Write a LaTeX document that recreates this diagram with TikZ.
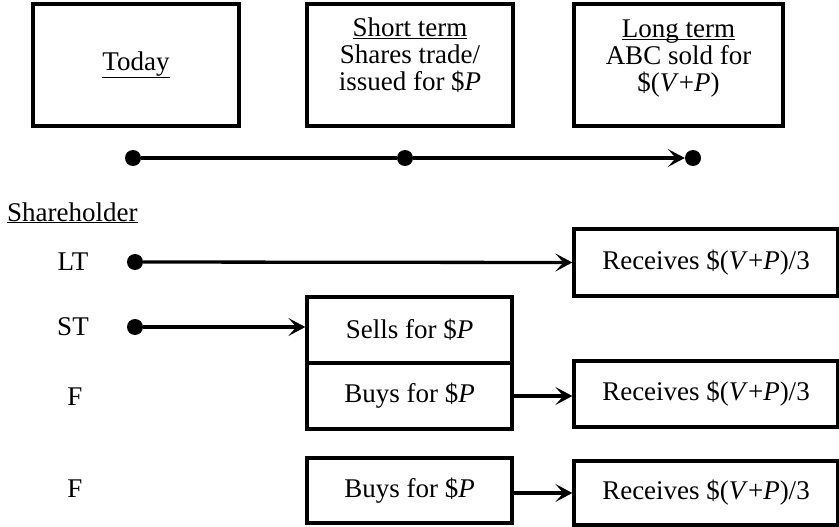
\documentclass[tikz,border=0pt]{standalone}
\usepackage{fontspec}
\setmainfont{Liberation Serif}
\usetikzlibrary{arrows.meta}
\tikzset{
  box/.style={draw, line width=3.3pt, inner sep=0pt, align=center, font=\fontsize{27}{27}\selectfont},
  txt/.style={inner sep=0pt, anchor=base, font=\fontsize{27}{27}\selectfont},
  lbl/.style={inner sep=0pt, font=\fontsize{27}{27}\selectfont},
  dot/.style={circle, fill=black, inner sep=0pt, minimum size=16pt},
  conn/.style={line width=3.3pt},
  arr/.style={line width=3.3pt, -{Stealth[length=17pt,width=18pt,inset=8pt]}},
}
\newcommand{\vp}{\$(\textit{V}+\textit{P})}
\newcommand{\ulsm}[1]{\underline{\smash{#1}}}
\begin{document}
\begin{tikzpicture}[x=1pt,y=-1pt]
\useasboundingbox (0,0) rectangle (839,527);
% top boxes
\node[box, minimum width=206pt, minimum height=122pt] (today) at (136,65) {\underline{Today}};
\node[box, minimum width=206pt, minimum height=122pt] (short) at (410,65) {};
\node[txt] (s1) at (410,37) {\ulsm{Short term}};
\node[txt] (s2) at (410,64) {Shares trade/};
\node[txt] (s3) at (410,91) {issued for \$\textit{P}};
\node[box, minimum width=209pt, minimum height=122pt] (long) at (678.5,65) {};
\node[txt] (l1) at (678.5,38) {\ulsm{Long term}};
\node[txt] (l2) at (678.5,65) {ABC sold for};
\node[txt] (l3) at (678.5,92) {\vp};
% timeline
\node[dot] (t1) at (133,158) {};
\node[dot] (t2) at (405,158) {};
\node[dot] (t3) at (693,158) {};
\draw[conn] (t1) -- (t2);
\draw[arr] (t2) -- (t3.west);
% shareholders
\node[lbl, anchor=base west] (sh) at (7,221) {\ulsm{Shareholder}};
\node[lbl] (lt) at (73,262) {LT};
\node[lbl] (st) at (73,327) {ST};
\node[lbl] (f1) at (75,397) {F};
\node[lbl] (f2) at (75,489) {F};
\node[dot] (dlt) at (135,262) {};
\node[dot] (dst) at (135,327) {};
% boxes
\node[box, minimum width=264pt, minimum height=67pt] (r1) at (706,262.5) {Receives \vp/3};
\node[box, minimum width=205pt, minimum height=66pt] (sells) at (409.5,330) {Sells for \$\textit{P}};
\node[box, minimum width=205pt, minimum height=66pt] (buys1) at (409.5,396) {Buys for \$\textit{P}};
\node[box, minimum width=264pt, minimum height=66pt] (r2) at (706,394) {Receives \vp/3};
\node[box, minimum width=205pt, minimum height=65pt] (buys2) at (409.5,490.5) {Buys for \$\textit{P}};
\node[box, minimum width=264pt, minimum height=64pt] (r3) at (706,493) {Receives \vp/3};
% connectors
\draw[arr] (dlt) -- (r1.west);
\draw[arr] (dst) -- (sells.west|-dst);
\draw[arr] (buys1.east) -- (r2.west|-buys1.east);
\draw[arr] (buys2.east|-r3.west) -- (r3.west);
\end{tikzpicture}
\end{document}
